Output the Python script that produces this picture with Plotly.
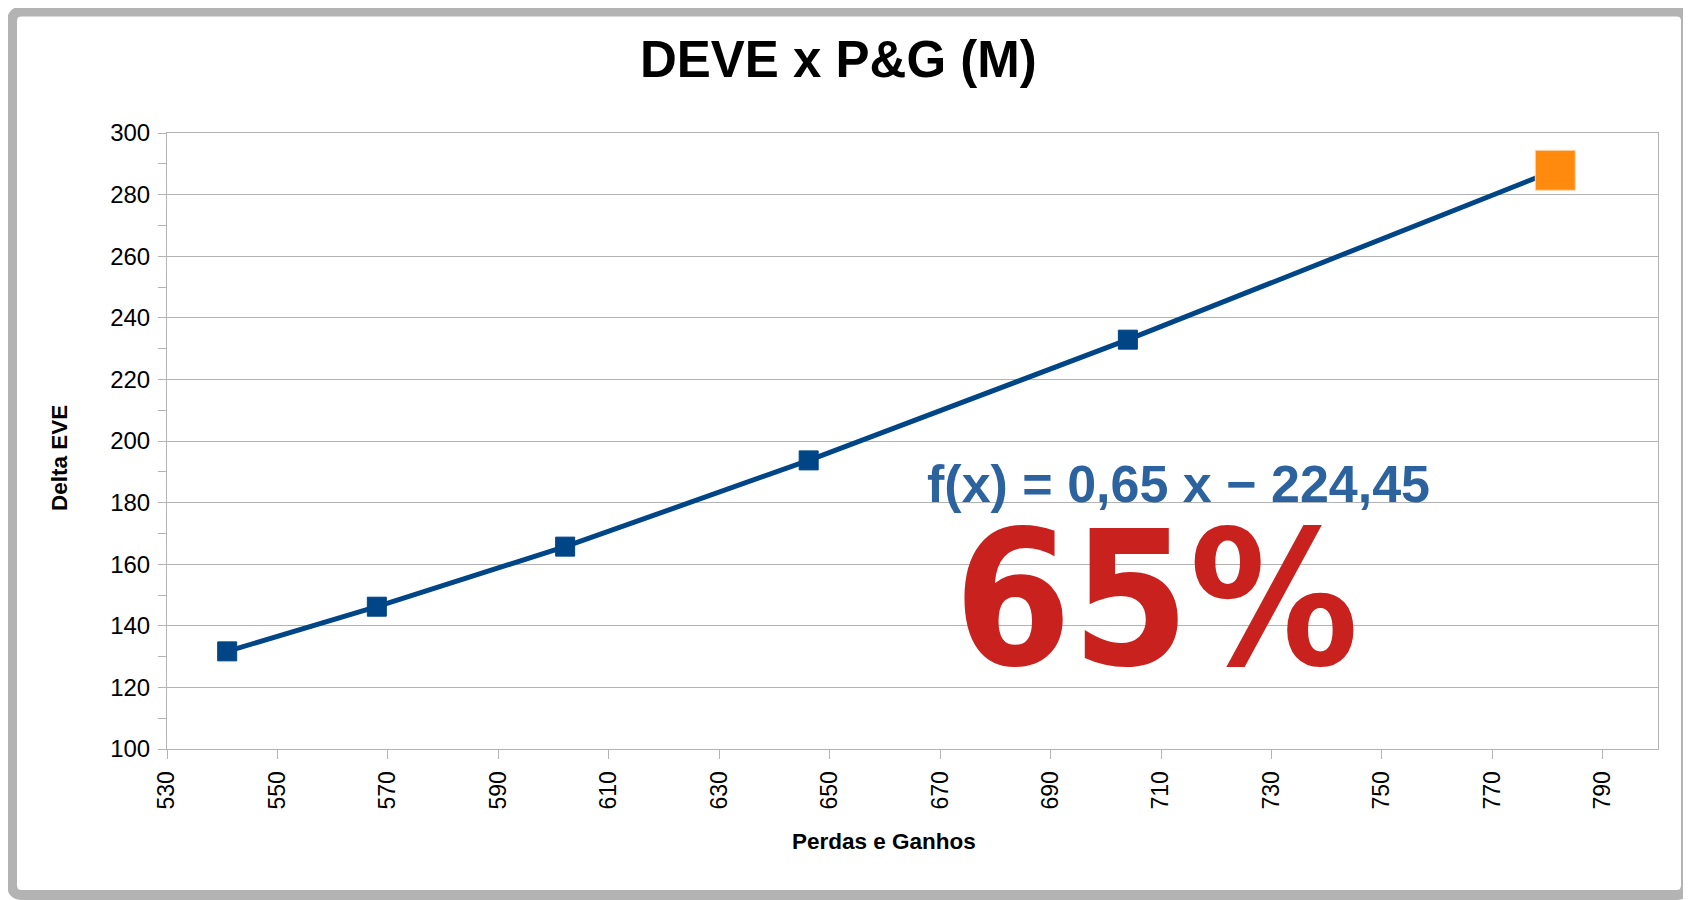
import plotly.graph_objects as go

# ---- data ----
perdas_ganhos = [540.9, 568.0, 602.1, 646.2, 704.0, 781.4]
delta_eve = [131.7, 146.2, 165.7, 193.7, 232.9, 287.9]
marker_colors = ["#004586", "#004586", "#004586", "#004586", "#004586", "#ff8a0d"]
marker_sizes = [19, 19, 19, 19, 19, 40]
x_ticks = [530, 550, 570, 590, 610, 630, 650, 670, 690, 710, 730, 750, 770, 790]
y_ticks = [100, 120, 140, 160, 180, 200, 220, 240, 260, 280, 300]

title_text = "DEVE x P&G (M)"
x_title = "Perdas e Ganhos"
y_title = "Delta EVE"
equation_text = "f(x) = 0,65 x − 224,45"
big_text = "65%"

OFF = 8  # page body margin
W, H = 1691, 900
L, T = 167 - OFF, 133 - OFF
R, B = W - (1658 - OFF), H - (749 - OFF)
PW, PH = W - L - R, H - T - B


def px(X):
    return (X - OFF - L) / PW


def py(Y):
    return (H - B - (Y - OFF)) / PH


fig = go.Figure()
fig.add_trace(go.Scatter(
    x=perdas_ganhos, y=delta_eve, mode="lines+markers",
    line=dict(color="#004586", width=5),
    marker=dict(symbol="square", color=marker_colors, size=marker_sizes, opacity=1,
                line=dict(color=["#004586"] * 5 + ["#ffd9b0"], width=1)),
    showlegend=False, hoverinfo="x+y",
))

grid = "#b3b3b3"
fig.update_xaxes(
    range=[530, 800], tickvals=x_ticks, ticktext=[str(v) for v in x_ticks],
    tickangle=-90, ticks="outside", ticklen=9, tickcolor=grid, tickwidth=1,
    showgrid=False, zeroline=False, showline=True, linecolor=grid, linewidth=1,
    mirror=True, tickfont=dict(family="Liberation Sans", size=23, color="#000"),
    ticklabelstandoff=3,
)
fig.update_yaxes(
    range=[100, 300], tickvals=y_ticks, ticks="outside", ticklen=8, tickcolor=grid,
    showgrid=True, gridcolor=grid, gridwidth=1, zeroline=False, showline=True,
    linecolor=grid, linewidth=1, mirror=True,
    minor=dict(dtick=10, ticks="outside", ticklen=8, tickcolor=grid, showgrid=False),
    tickfont=dict(family="Liberation Sans", size=24, color="#000"),
    ticklabelstandoff=3,
)

ann = [
    dict(text="<b>%s</b>" % title_text, x=px(838), y=py(59),
         font=dict(family="Liberation Sans", size=51, color="#000")),
    dict(text="<b>%s</b>" % y_title, x=px(59), y=py(458), textangle=-90,
         font=dict(family="Liberation Sans", size=22.5, color="#000")),
    dict(text="<b>%s</b>" % x_title, x=px(884), y=py(841),
         font=dict(family="Liberation Sans", size=22.5, color="#000")),
    dict(text="<b>%s</b>" % equation_text, x=px(1178), y=py(484),
         font=dict(family="Liberation Sans", size=52, color="#2c629d")),
    dict(text="<b>%s</b>" % big_text, x=px(1156), y=py(598),
         font=dict(family="Liberation Sans Narrow, DejaVu Sans Condensed, sans-serif",
                   size=188, color="#c9211e")),
]
for a in ann:
    a.update(xref="paper", yref="paper", showarrow=False, xanchor="center", yanchor="middle")

# outer frame with rounded corners (page coordinates)
x0, y0, x1, y1, r = 12, 11.5, 1686, 895, 10
path = (f"M {px(x0 + r)} {py(y0)} L {px(x1 - r)} {py(y0)} Q {px(x1)} {py(y0)} {px(x1)} {py(y0 + r)} "
        f"L {px(x1)} {py(y1 - r)} Q {px(x1)} {py(y1)} {px(x1 - r)} {py(y1)} "
        f"L {px(x0 + r)} {py(y1)} Q {px(x0)} {py(y1)} {px(x0)} {py(y1 - r)} "
        f"L {px(x0)} {py(y0 + r)} Q {px(x0)} {py(y0)} {px(x0 + r)} {py(y0)} Z")
fig.add_shape(type="path", path=path, xref="paper", yref="paper",
              line=dict(color="#b3b3b3", width=10), layer="below")

fig.update_layout(
    width=W, height=H, margin=dict(l=L, r=R, t=T, b=B, autoexpand=False),
    paper_bgcolor="white", plot_bgcolor="white", annotations=ann,
    font=dict(family="Liberation Sans"),
)
fig.write_html("out.html")
